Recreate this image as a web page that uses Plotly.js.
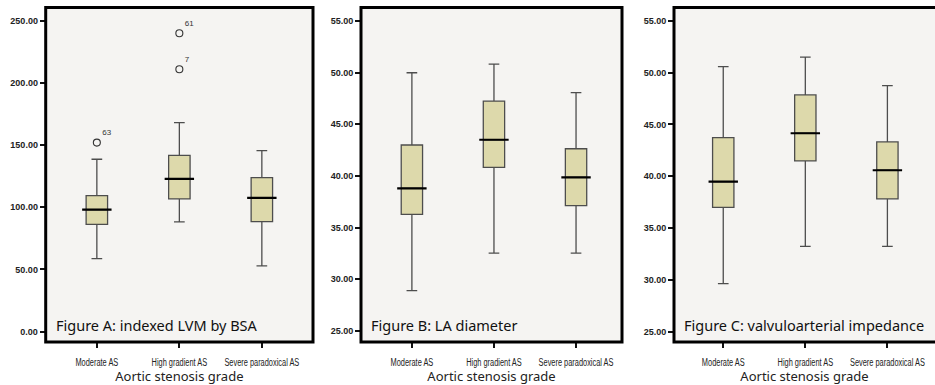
<!DOCTYPE html>
<html>
<head>
<meta charset="utf-8">
<script src="https://cdn.plot.ly/plotly-3.0.1.min.js"></script>
<style>html,body{margin:0;padding:0;background:#fff;}#chart{width:935px;height:385px;}</style>
</head>
<body>
<div id="chart"></div>
<script>
// ---- data ----
const categories = ['Moderate AS', 'High gradient AS', 'Severe paradoxical AS'];

// Figure A: indexed LVM by BSA
const lvmLow = [58.6, 88.2, 52.8];
const lvmQ1  = [86.3, 106.7, 88.4];
const lvmMed = [98.1, 122.8, 107.5];
const lvmQ3  = [109.3, 141.8, 123.8];
const lvmHigh = [138.6, 168.1, 145.5];
const lvmOutCat = ['Moderate AS', 'High gradient AS', 'High gradient AS'];
const lvmOutVal = [152.0, 211.0, 240.0];
const lvmOutCase = ['63', '7', '61'];

// Figure B: LA diameter
const laLow = [28.9, 32.54, 32.54];
const laQ1  = [36.29, 40.83, 37.12];
const laMed = [38.8, 43.5, 39.86];
const laQ3  = [42.99, 47.24, 42.63];
const laHigh = [49.98, 50.82, 48.05];

// Figure C: valvuloarterial impedance
const zvaLow = [29.63, 33.24, 33.24];
const zvaQ1  = [37.0, 41.48, 37.81];
const zvaMed = [39.48, 44.15, 40.58];
const zvaQ3  = [43.73, 47.85, 43.31];
const zvaHigh = [50.58, 51.49, 48.75];

const panelTitles = ['Figure A: indexed LVM by BSA', 'Figure B: LA diameter', 'Figure C: valvuloarterial impedance'];
const xTitle = 'Aortic stenosis grade';
const yTicksA = [0, 50, 100, 150, 200, 250];
const yTicksBC = [25, 30, 35, 40, 45, 50, 55];

// ---- styling ----
const boxFill = '#ddd9ab';
const boxLine = '#4d4d4d';
const plotBg = '#f5f4f2';

function boxTrace(xa, ya, low, q1, med, q3, high) {
  return {
    type: 'box', xaxis: xa, yaxis: ya,
    x: categories, lowerfence: low, q1: q1, median: med, q3: q3, upperfence: high,
    fillcolor: boxFill, line: {color: boxLine, width: 1.3},
    width: 0.26, whiskerwidth: 0.5, boxpoints: false, showlegend: false, hoverinfo: 'skip'
  };
}
function medTrace(xa, ya, med) {
  return {
    type: 'scatter', mode: 'markers', xaxis: xa, yaxis: ya,
    x: categories, y: med,
    marker: {symbol: 'line-ew', size: 21, line: {color: '#000', width: 2.2}},
    showlegend: false, hoverinfo: 'skip'
  };
}

const data = [
  boxTrace('x', 'y', lvmLow, lvmQ1, lvmMed, lvmQ3, lvmHigh),
  medTrace('x', 'y', lvmMed),
  {
    type: 'scatter', mode: 'markers+text', xaxis: 'x', yaxis: 'y',
    x: lvmOutCat, y: lvmOutVal, text: lvmOutCase, textposition: 'top right',
    textfont: {family: 'Liberation Sans, Arial', size: 8, color: '#333333'},
    marker: {symbol: 'circle-open', size: 7, color: '#333333', line: {width: 1.1, color: '#333333'}},
    showlegend: false, hoverinfo: 'skip', cliponaxis: false
  },
  boxTrace('x2', 'y2', laLow, laQ1, laMed, laQ3, laHigh),
  medTrace('x2', 'y2', laMed),
  boxTrace('x3', 'y3', zvaLow, zvaQ1, zvaMed, zvaQ3, zvaHigh),
  medTrace('x3', 'y3', zvaMed)
];

const W = 935, H = 385;
const yDom = [43 / H, 377.5 / H];
const tickFontY = {family: 'Liberation Sans, Arial', size: 9, color: '#222', weight: 700};
const tickFontX = {family: 'Liberation Sans, Arial', size: 10, color: '#222'};
const titleFont = {family: 'Noto Sans, Open Sans, sans-serif', size: 13, color: '#222'};

function xAxis(dom, range) {
  return {
    domain: dom, range: range, type: 'category', categoryorder: 'array', categoryarray: categories,
    showgrid: false, zeroline: false, showline: false, tickangle: 0,
    ticks: 'outside', ticklen: 5, tickwidth: 2, tickcolor: '#111', ticklabelstandoff: 6,
    tickfont: tickFontX,
    title: {text: xTitle, font: titleFont, standoff: 4}, fixedrange: true
  };
}
function yAxis(anchor, range, vals) {
  return {
    anchor: anchor, domain: yDom, range: range, tickvals: vals, tickformat: '.2f',
    showgrid: false, zeroline: false, showline: false,
    ticks: 'outside', ticklen: 5, tickwidth: 2, tickcolor: '#111',
    tickfont: tickFontY, fixedrange: true
  };
}

function frame(xr, yr, x1) {
  return {type: 'rect', xref: xr + ' domain', yref: yr + ' domain', x0: 0, x1: x1, y0: 0, y1: 1,
    line: {color: '#000', width: 3}, fillcolor: 'rgba(0,0,0,0)', layer: 'above'};
}
function label(xr, yr, txt) {
  return {xref: xr + ' domain', yref: yr + ' domain', x: 0, y: 0, xanchor: 'left', yanchor: 'middle',
    xshift: 8, yshift: 17, text: txt, showarrow: false,
    font: {family: 'Noto Sans, Open Sans, sans-serif', size: 14.5, color: '#111'}};
}

const xa1 = xAxis([45.7 / W, 313 / W], [-0.62, 2.62]); xa1.anchor = 'y';
const xa2 = xAxis([361 / W, 622 / W], [-0.62, 2.56]); xa2.anchor = 'y2';
const xa3 = xAxis([674 / W, 1], [-0.6, 2.58]); xa3.anchor = 'y3';

const layout = {
  width: W, height: H, margin: {l: 0, r: 0, t: 0, b: 0},
  paper_bgcolor: '#ffffff', plot_bgcolor: plotBg,
  showlegend: false,
  xaxis: xa1, yaxis: yAxis('x', [-8.4, 260.7], yTicksA),
  xaxis2: xa2, yaxis2: yAxis('x2', [23.94, 56.29], yTicksBC),
  xaxis3: xa3, yaxis3: yAxis('x3', [24.0, 56.29], yTicksBC),
  shapes: [frame('x', 'y', 1), frame('x2', 'y2', 1), frame('x3', 'y3', 1.03)],
  annotations: [label('x', 'y', panelTitles[0]), label('x2', 'y2', panelTitles[1]), label('x3', 'y3', panelTitles[2])]
};

Plotly.newPlot('chart', data, layout, {displayModeBar: false, staticPlot: true}).then(function (gd) {
  // condense category labels (the original uses a narrow typeface)
  gd.querySelectorAll('.xtick text, .x2tick text, .x3tick text').forEach(function (t) {
    const w = t.getComputedTextLength();
    t.setAttribute('textLength', (w * 0.74).toFixed(1));
    t.setAttribute('lengthAdjust', 'spacingAndGlyphs');
  });
});
</script>
</body>
</html>
